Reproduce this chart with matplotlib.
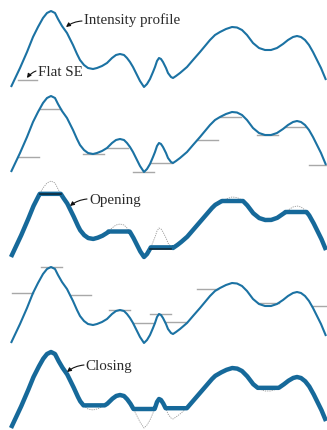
import numpy as np
import matplotlib
matplotlib.use("Agg")
import matplotlib.pyplot as plt
from numpy.lib.stride_tricks import sliding_window_view

# ---- data ----
profile_x = [11, 20, 27, 33, 38, 43, 47, 51, 55, 58, 62, 67, 73, 77, 80, 84, 88, 93, 97,
             102, 107, 112, 116, 120, 124, 127, 130, 133, 137, 140, 144, 147, 150, 153,
             155, 157, 159, 161, 163, 166, 168, 171, 173, 176, 180, 187, 193, 200, 205,
             210, 215, 220, 226, 232, 237, 242, 247, 253, 259, 265, 271, 277, 283, 288,
             293, 297, 301, 305, 309, 313, 317, 321, 326]
profile_intensity = [3, 22, 38, 53, 63, 72, 77, 79, 77, 71, 64, 57, 45, 36, 30, 25, 22, 21, 22,
                     24, 27, 32, 35, 36, 35, 32, 28, 23, 15, 9, 3, 6, 11, 18,
                     23, 29, 32, 31, 28, 22, 17, 13, 12, 14, 17, 23, 30, 38, 44,
                     50, 55, 58, 61, 63, 62.5, 60, 55, 47, 42, 40, 40, 42, 46, 50,
                     53, 54, 53, 50, 45, 38, 30, 22, 10]
se_width = 21
erosion_probe_left = [18, 40, 83, 107, 133, 151, 197, 220, 257, 285, 309]
dilation_probe_left = [12, 41, 70, 109, 133, 150, 165, 197, 258, 312]
opening_marked_left = [40, 150]
panel_labels = ["Intensity profile", "Flat SE", "Opening", "Closing"]

# ---- style ----
BLUE = "#1b72a3"
BLUE_THICK = "#16699a"
GRAY = "#a8a8a8"
offsets = [0, 85, 170, 256, 341]

fig = plt.figure(figsize=(3.27, 4.30), dpi=100)
ax = fig.add_axes([0, 0, 1, 1])
ax.set_xlim(0, 327)
ax.set_ylim(430, 0)
ax.axis("off")

px = np.array(profile_x, float)
pI = np.array(profile_intensity, float)

def Y(I, k):
    return offsets[k] + 90 - np.asarray(I)

# fine grid for morphology (signal treated as -inf outside its domain)
step = 0.25
gx = np.arange(px[0], px[-1] + 1e-9, step)
gf = np.interp(gx, px, pI)
h = int(round(se_width / 2 / step))
ext = np.concatenate([np.full(h, -np.inf), gf, np.full(h, -np.inf)])

def erode(a):
    p = np.pad(a, h, constant_values=np.inf)
    return sliding_window_view(p, 2 * h + 1).min(axis=1)

def dilate(a):
    p = np.pad(a, h, constant_values=-np.inf)
    return sliding_window_view(p, 2 * h + 1).max(axis=1)

opening = dilate(erode(ext))[h:-h]
closing = erode(dilate(ext))[h:-h]

def win(lo):
    m = (gx >= lo) & (gx <= lo + se_width)
    return gf[m]

# Panel 1: profile
ax.plot(px, Y(pI, 0), color=BLUE, lw=1.5, solid_capstyle="butt")
ax.plot([18, 18 + se_width - 2], [80, 80], color=GRAY, lw=1.0)

# Panel 2: profile + SE pushed from below
ax.plot(px, Y(pI, 1), color=BLUE, lw=1.5, solid_capstyle="butt")
for lo in erosion_probe_left:
    v = win(lo).min()
    ax.plot([lo, min(lo + se_width, 327)], [Y(v, 1)] * 2, color=GRAY, lw=1.0, zorder=1)

# Panel 3: opening
ax.plot(px, Y(pI, 2), color="#999999", lw=0.6, ls=(0, (1.5, 1.2)), zorder=1)
ax.plot(gx, Y(opening, 2), color=BLUE_THICK, lw=3.2, solid_capstyle="butt", zorder=2)
for lo in opening_marked_left:
    v = win(lo).min()
    ax.plot([lo, lo + se_width], [Y(v, 2)] * 2, color="#0d2a3a", lw=1.2, zorder=3)

# Panel 4: profile + SE pushed from above
ax.plot(px, Y(pI, 3), color=BLUE, lw=1.5, solid_capstyle="butt")
for lo in dilation_probe_left:
    v = win(lo).max()
    ax.plot([lo, min(lo + se_width, 327)], [Y(v, 3)] * 2, color=GRAY, lw=1.0, zorder=1)

# Panel 5: closing
ax.plot(px, Y(pI, 4), color="#999999", lw=0.6, ls=(0, (1.5, 1.2)), zorder=1)
ax.plot(gx, Y(closing, 4), color=BLUE_THICK, lw=3.2, solid_capstyle="butt", zorder=2)

# labels with arrows
font = dict(family="Liberation Serif", fontsize=10.8, color="#2a2a2a", va="center", ha="left")
arrow = dict(arrowstyle="-|>", color="#111111", lw=0.8, mutation_scale=6,
             shrinkA=0, shrinkB=0, connectionstyle="arc3,rad=0.15")
labels = [(panel_labels[0], (84.5, 20.5), (82, 21), (66, 27)),
          (panel_labels[1], (38.5, 72.5), (36, 71), (27, 78)),
          (panel_labels[2], (89.5, 200.5), (87, 199), (70, 206)),
          (panel_labels[3], (85.5, 366.5), (84, 365), (67, 372))]
for txt, tpos, tail, head in labels:
    ax.text(tpos[0], tpos[1], txt, **font)
    ax.annotate("", xy=head, xytext=tail, arrowprops=arrow)

fig.savefig("out.png", dpi=100)
